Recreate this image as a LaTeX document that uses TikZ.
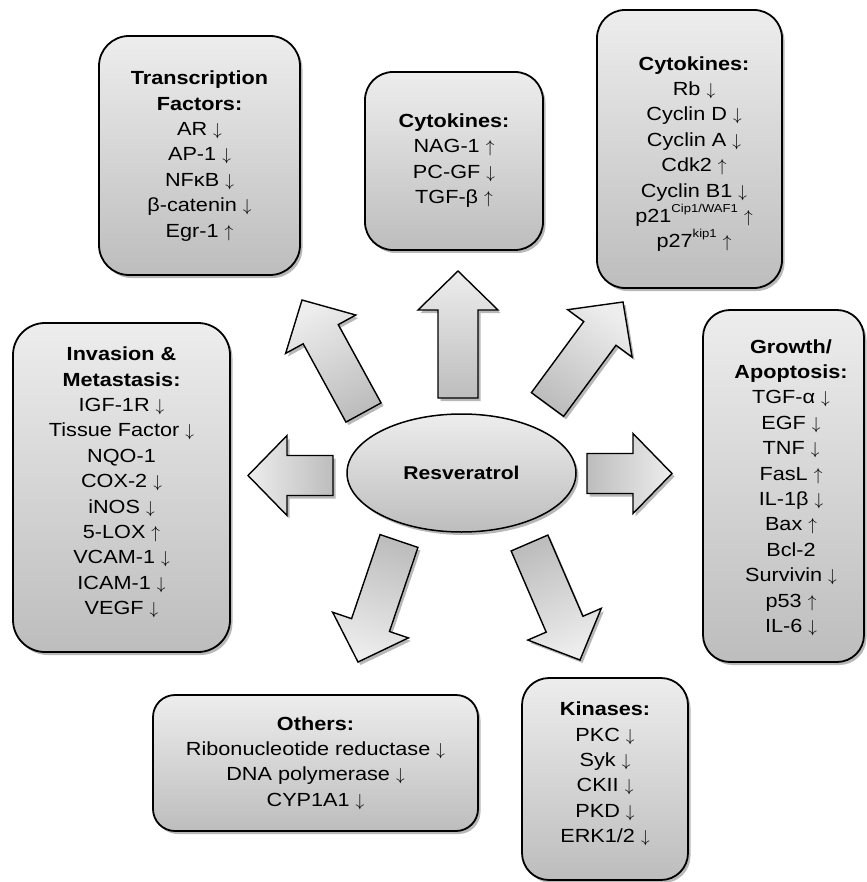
\documentclass[tikz,border=0pt]{standalone}
\usepackage{fontspec}
\setmainfont[FakeStretch=1.14]{Liberation Sans}
\usetikzlibrary{shadows,shapes.geometric}

\definecolor{gLight}{HTML}{EDEDED}
\definecolor{gDark}{HTML}{BDBDBD}

\newcommand{\supx}[1]{\raisebox{0.52em}{\fontsize{11.5}{11.5}\selectfont #1}}
\newcommand{\dnar}{$\downarrow$}
\newcommand{\upar}{$\uparrow$}

\tikzset{
  softshadow/.style={drop shadow={shadow xshift=2.5pt, shadow yshift=-3pt, opacity=0.28, fill=black}},
  boxbg/.style={draw=black, line width=1.8pt, top color=gLight, bottom color=gDark,
                softshadow, inner sep=0pt, rectangle},
  boxtxt/.style={align=center, inner sep=0pt, font=\fontsize{19}{25.4}\selectfont},
  blk/.style={draw=black, line width=1.4pt, softshadow, line join=miter},
}

% block arrow: base (#1,#2) -> tip (#3,#4), pixel coordinates
\newcommand{\blockarrow}[4]{%
  \pgfmathsetmacro{\bArDx}{#3-#1}%
  \pgfmathsetmacro{\bArDy}{#4-#2}%
  \pgfmathsetmacro{\bArL}{veclen(\bArDx,\bArDy)}%
  \pgfmathsetmacro{\bArUx}{\bArDx/\bArL}%
  \pgfmathsetmacro{\bArUy}{\bArDy/\bArL}%
  \pgfmathsetmacro{\bArAng}{atan2(-\bArDy,\bArDx)-90}%
  \pgfmathsetmacro{\bArNx}{#3-39*\bArUx}%
  \pgfmathsetmacro{\bArNy}{#4-39*\bArUy}%
  \path[blk, top color=gLight, bottom color=gDark, shading angle=\bArAng]
    ({#1-20*\bArUy},{#2+20*\bArUx}) --
    ({\bArNx-20*\bArUy},{\bArNy+20*\bArUx}) --
    ({\bArNx-40*\bArUy},{\bArNy+40*\bArUx}) --
    (#3,#4) --
    ({\bArNx+40*\bArUy},{\bArNy-40*\bArUx}) --
    ({\bArNx+20*\bArUy},{\bArNy-20*\bArUx}) --
    ({#1+20*\bArUy},{#2-20*\bArUx}) -- cycle;
}

\begin{document}
\begin{tikzpicture}[x=1pt,y=-1pt]
\useasboundingbox (0,0) rectangle (866,882);

% boxes
\node[boxbg, rounded corners=30pt, minimum width=201pt, minimum height=239pt] (tfbox) at (199.5,155.5) {};
\node[boxtxt] (tftxt) at (199.5,156) {\textbf{Transcription}\\\textbf{Factors:}\\AR \dnar\\AP-1 \dnar\\NFκB \dnar\\β-catenin \dnar\\Egr-1 \upar};

\node[boxbg, rounded corners=28pt, minimum width=178pt, minimum height=178pt] (ckbox) at (454,161) {};
\node[boxtxt] (cktxt) at (454,160.5) {\textbf{Cytokines:}\\NAG-1 \upar\\PC-GF \dnar\\TGF-β \upar};

\node[boxbg, rounded corners=28pt, minimum width=185pt, minimum height=278pt] (ccbox) at (689.5,149) {};
\node[boxtxt] (cctxt) at (694,154) {\textbf{Cytokines:}\\Rb \dnar\\Cyclin D \dnar\\Cyclin A \dnar\\Cdk2 \upar\\Cyclin B1 \dnar\\p21\supx{Cip1/WAF1} \upar\\p27\supx{kip1} \upar};

\node[boxbg, rounded corners=32pt, minimum width=217pt, minimum height=329pt] (imbox) at (121.5,487.5) {};
\node[boxtxt] (imtxt) at (121.5,482.5) {\textbf{Invasion \&}\\\textbf{Metastasis:}\\IGF-1R \dnar\\Tissue Factor \dnar\\NQO-1\\COX-2 \dnar\\iNOS \dnar\\5-LOX \upar\\VCAM-1 \dnar\\ICAM-1 \dnar\\VEGF \dnar};

\node[boxbg, rounded corners=27pt, minimum width=161pt, minimum height=352pt] (gabox) at (783.5,486) {};
\node[boxtxt] (gatxt) at (791,487.5) {\textbf{Growth/}\\\textbf{Apoptosis:}\\TGF-α \dnar\\EGF \dnar\\TNF \dnar\\FasL \upar\\IL-1β \dnar\\Bax \upar\\Bcl-2\\Survivin \dnar\\p53 \upar\\IL-6 \dnar};

\node[boxbg, rounded corners=22pt, minimum width=325pt, minimum height=136pt] (otbox) at (315.5,763) {};
\node[boxtxt] (ottxt) at (315.5,763) {\textbf{Others:}\\Ribonucleotide reductase \dnar\\DNA polymerase \dnar\\CYP1A1 \dnar};

\node[boxbg, rounded corners=27pt, minimum width=166pt, minimum height=202pt] (kibox) at (605,779) {};
\node[boxtxt] (kitxt) at (605,774) {\textbf{Kinases:}\\PKC \dnar\\Syk \dnar\\CKII \dnar\\PKD \dnar\\ERK1/2 \dnar};

% block arrows
\blockarrow{458}{398}{458}{271}
\blockarrow{363.5}{412.5}{302}{300}
\blockarrow{547.5}{404.5}{623}{302}
\blockarrow{333}{475.5}{248}{475.5}
\blockarrow{587}{473.5}{672}{473.5}
\blockarrow{399}{541}{358}{662}
\blockarrow{529.5}{543}{580}{660}

% centre
\node[ellipse, draw=black, line width=1.5pt, top color=gLight, bottom color=gDark, softshadow,
      minimum width=229pt, minimum height=118pt, inner sep=0pt,
      font=\fontsize{18.5}{22}\selectfont\bfseries] (res) at (461.5,473) {Resveratrol};
\end{tikzpicture}
\end{document}
